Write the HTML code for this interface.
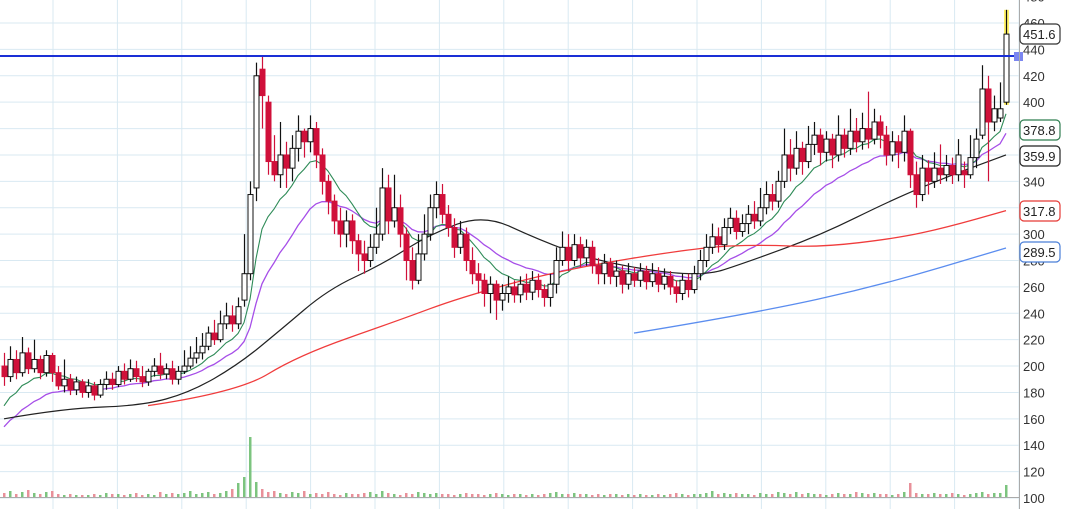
<!DOCTYPE html>
<html><head><meta charset="utf-8"><style>
html,body{margin:0;padding:0;background:#fff;}
svg{display:block;font-family:"Liberation Sans",sans-serif;}
</style></head><body>
<svg id="chart" width="1083" height="509" xmlns="http://www.w3.org/2000/svg">
<g id="grid"></g>
<g id="vol"></g>
<g id="lines"></g>
<g id="candles"></g>
<g id="axis"></g>
</svg>
<script>
const opens=[200,192,205,195,210,198,205,195,208,195,185,190,182,188,180,185,178,186,190,186,196,190,198,192,188,196,200,194,198,190,196,200,206,210,215,225,220,232,238,232,250,270,335,425,400,355,345,360,350,365,378,370,380,360,340,325,310,300,310,295,285,280,290,300,335,310,320,300,280,265,285,300,320,330,315,305,290,300,280,270,265,255,262,250,255,260,254,262,256,265,258,252,262,280,290,280,292,282,290,276,270,278,268,272,262,270,265,272,264,270,262,268,260,255,265,258,270,280,290,298,292,305,312,302,308,315,310,320,330,325,340,360,350,365,355,368,375,362,372,360,375,365,378,370,380,372,385,375,360,370,362,378,345,330,350,340,350,345,352,345,348,345,358,375,410,385,388,400];
const closes=[192,205,195,210,198,205,195,208,195,185,190,182,188,180,185,178,186,190,186,196,190,198,192,188,196,200,194,198,190,196,200,206,210,215,225,220,232,238,232,245,270,330,420,405,355,345,360,350,365,378,370,380,360,340,325,310,300,310,295,285,280,290,300,335,310,320,300,280,265,285,300,320,330,315,305,290,300,280,270,265,255,262,250,255,260,254,262,256,265,258,252,262,280,290,280,292,282,290,276,270,278,268,272,262,270,265,272,264,270,262,268,260,255,265,258,270,280,290,298,292,305,312,302,308,315,310,320,330,325,340,360,350,365,355,368,375,362,372,360,375,365,378,370,380,372,385,375,360,370,362,378,345,330,350,340,350,345,352,345,360,345,358,372,410,385,395,395,451.6];
const highs=[210,215,212,222,214,220,208,212,210,200,205,194,192,190,190,188,190,196,195,200,202,205,204,200,198,206,210,202,204,200,212,215,222,225,230,235,242,248,246,252,300,340,430,435,405,375,385,370,375,390,380,390,385,365,345,330,320,318,315,300,295,300,320,350,345,345,330,305,290,300,315,330,340,338,322,312,310,305,290,278,270,268,265,262,268,265,268,270,272,270,262,270,290,302,300,300,298,296,295,282,285,282,280,276,278,275,278,276,278,275,274,272,265,270,270,276,288,300,308,305,312,320,318,315,322,325,335,340,338,348,380,372,378,370,382,385,380,378,376,390,380,395,388,392,408,395,390,382,378,375,390,380,355,360,356,362,368,360,358,372,355,375,380,428,420,405,415,470];
const lows=[185,188,190,192,194,195,190,192,188,182,180,178,178,176,176,174,176,182,182,184,186,188,188,184,185,192,190,190,186,186,194,198,202,205,212,216,218,228,226,228,245,265,325,380,345,340,335,335,340,355,358,362,350,330,315,300,290,290,285,272,270,275,285,295,300,305,290,265,258,262,280,295,312,308,298,282,285,272,262,255,245,240,235,242,248,248,248,250,250,252,245,245,255,276,272,276,275,276,270,262,262,262,260,255,258,260,260,258,260,256,258,254,248,250,252,255,265,275,285,286,288,300,296,298,300,304,306,315,318,320,335,340,345,345,350,360,352,355,350,355,358,360,362,364,365,368,365,352,355,350,355,335,320,325,330,335,338,340,338,340,335,342,350,372,340,378,385,398];
const volumes=[4,6,3,5,7,4,3,5,6,3,2,3,2,2,2,3,2,4,3,3,2,3,4,2,3,2,5,3,4,3,4,6,3,4,5,3,4,6,8,14,20,60,15,8,5,6,4,3,5,4,6,3,4,3,5,3,2,4,3,3,4,5,3,6,4,3,2,4,3,5,4,3,4,3,3,2,3,4,3,3,2,3,4,3,2,3,3,2,3,2,3,4,5,3,3,4,3,3,2,3,2,3,3,2,3,2,3,2,2,3,2,3,4,3,2,3,3,4,6,3,4,3,4,3,3,2,4,3,3,5,4,3,5,3,4,3,3,2,3,4,3,3,5,4,3,4,3,3,2,3,5,14,4,3,3,4,3,3,4,3,2,3,4,5,3,4,4,12];
const redIdx=[24,39,49,66,76,93,116,126,136,149,157,167];
const redVals=[170,180,208,235,252,273,290,292,290,297,305,317.8];
const blueIdx=[105,125,146,167];
const blueVals=[225,240,261,289.5];
const blackIdx=[0,10,23,31,39,46,54,63,71,80,89,99,116,124,136,148,158,167];
const blackVals=[160,168,170,180,201,227,258,277,300,315,296,279,267,279,299,326,345,360];
const priceTicks=[100,120,140,160,180,200,220,240,260,280,300,320,340,360,380,400,420,440,460,480];
const priceLabels=[{v:451.6,c:"#333"},{v:378.8,c:"#2e7d4f"},{v:359.9,c:"#222"},{v:317.8,c:"#e53935"},{v:289.5,c:"#4a7fd8"}];
const labelY=[34,130,156,211,252];
const resistance=435;

const NS="http://www.w3.org/2000/svg";
const PR=1019;
const y=v=>498-(v-100)*1.3194;
const x=i=>4+6*i;
function mk(t,a,p){const e=document.createElementNS(NS,t);for(const k in a)e.setAttribute(k,a[k]);p.appendChild(e);return e;}
const G=document.getElementById('grid'),V=document.getElementById('vol'),L=document.getElementById('lines'),C=document.getElementById('candles'),A=document.getElementById('axis');

priceTicks.forEach(t=>{const l=mk('line',{x1:0,x2:PR,y1:y(t),y2:y(t),stroke:'#d9e9f2','stroke-width':1},G);

});
for(let gx=53;gx<PR;gx+=64.4){const l=mk('line',{x1:gx,x2:gx,y1:0,y2:509,stroke:'#d9e9f2','stroke-width':1},G);

}
mk('line',{x1:0,x2:PR,y1:497.5,y2:497.5,stroke:'#aaa','stroke-width':1},G);

volumes.forEach((v,i)=>{const up=closes[i]>=opens[i];const r=mk('rect',{x:x(i)-1,y:497-v,width:2.5,height:v,fill:up?'#7cc47f':'#e8909a'},V);

});

function ema(arr,n,seed){const k=2/(n+1);let e=seed;return arr.map(v=>(e=v*k+e*(1-k)));}
function path(pts,col,w){const p=mk('path',{d:pts.map((q,j)=>(j?'L':'M')+q[0].toFixed(1)+' '+q[1].toFixed(1)).join(' '),fill:'none',stroke:col,'stroke-width':w},L);return p;}
function smooth(pts,col,w){let d='M'+pts[0][0]+' '+pts[0][1];
for(let j=1;j<pts.length-1;j++){const mx=(pts[j][0]+pts[j+1][0])/2,my=(pts[j][1]+pts[j+1][1])/2;d+=' Q'+pts[j][0].toFixed(1)+' '+pts[j][1].toFixed(1)+' '+mx.toFixed(1)+' '+my.toFixed(1);}
const l=pts[pts.length-1];d+=' L'+l[0]+' '+l[1];
return mk('path',{d:d,fill:'none',stroke:col,'stroke-width':w},L);}
const pl=path(ema(closes,20,150).map((v,i)=>[x(i),y(v)]),'#a64ee8',1.3);


const gl=path(ema(closes,10,165).map((v,i)=>[x(i),y(v)]),'#2e8b57',1.1);


const bl=smooth(blackIdx.map((d,j)=>[x(d),y(blackVals[j])]),'#222',1.2);


const rl=smooth(redIdx.map((d,j)=>[x(d),y(redVals[j])]),'#f03c3c',1.3);


const bul=smooth(blueIdx.map((d,j)=>[x(d),y(blueVals[j])]),'#5b8def',1.3);



opens.forEach((o,i)=>{const c=closes[i],up=c>=o,cx=x(i);
if(i===opens.length-1){const hl=mk('rect',{x:cx-2,y:y(highs[i]),width:5,height:y(lows[i])-y(highs[i]),fill:'#fff36a'},C);}
const col=up?'#111':'#d0103a';
mk('line',{x1:cx+.5,x2:cx+.5,y1:y(highs[i]),y2:y(lows[i]),stroke:col,'stroke-width':1.2},C);
const top=y(Math.max(o,c)),h=Math.max(1,Math.abs(y(o)-y(c)));
const b=mk('rect',{x:cx-2,y:top,width:5,height:h,fill:up?'#fff':'#d0103a',stroke:col,'stroke-width':1},C);

});

const rs=mk('line',{x1:0,x2:PR,y1:y(resistance),y2:y(resistance),stroke:'#1a2fd6','stroke-width':2},A);


const hd=mk('rect',{x:PR-5,y:y(resistance)-4,width:9,height:9,fill:'#7b86f0'},A);


mk('line',{x1:PR+.5,x2:PR+.5,y1:0,y2:509,stroke:'#aaa','stroke-width':1},A);
priceTicks.forEach(t=>{const tx=mk('text',{x:1023,y:y(t)+5,'font-size':13,fill:'#333'},A);tx.textContent=t;

});
priceLabels.forEach((p,j)=>{const g=mk('g',{},A);


mk('rect',{x:1020,y:labelY[j]-10,width:40,height:20,rx:4,fill:'#fff',stroke:p.c,'stroke-width':1.2},g);
const t=mk('text',{x:1023,y:labelY[j]+5,'font-size':13,fill:'#222'},g);t.textContent=p.v.toFixed(1);});
</script>
</body></html>
